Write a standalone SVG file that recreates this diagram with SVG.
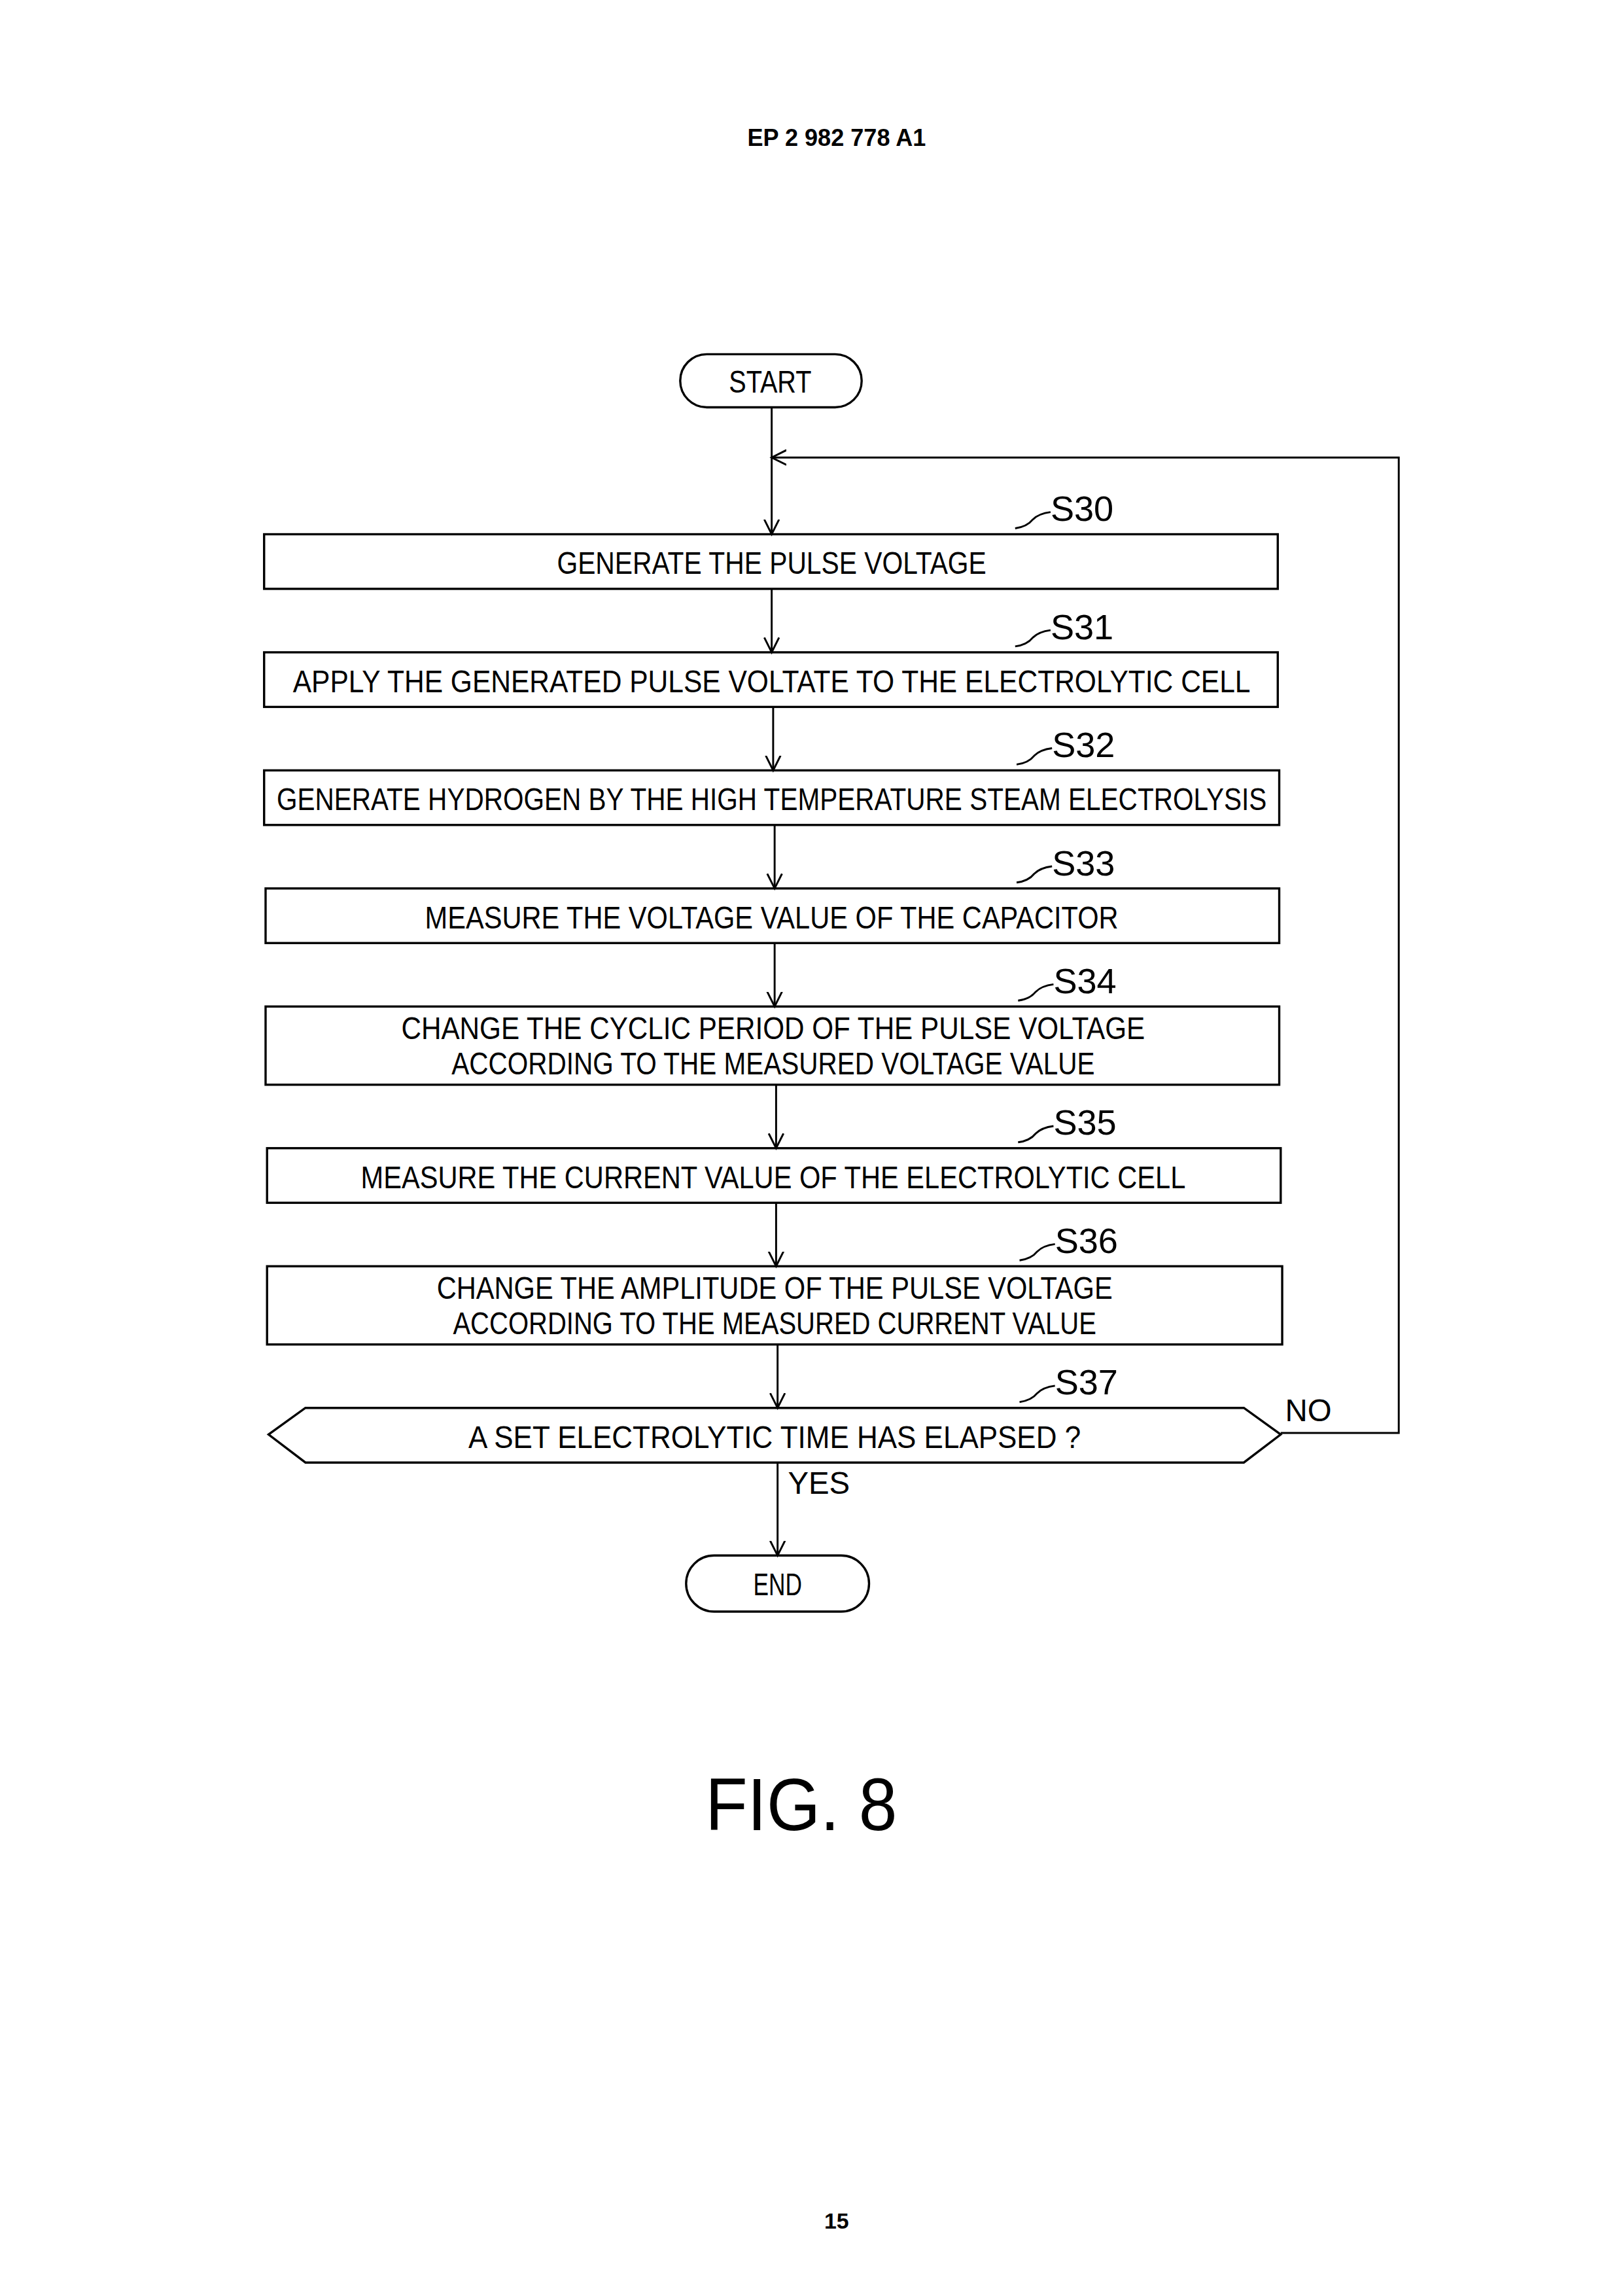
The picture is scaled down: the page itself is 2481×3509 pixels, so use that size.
<svg xmlns="http://www.w3.org/2000/svg" width="2481" height="3509" viewBox="0 0 2481 3509">
<defs>
<style>
.b{fill:none;stroke:#000;stroke-width:1.5}
.c{fill:none;stroke:#000;stroke-width:1.3}
.t{font-family:"Liberation Sans",Arial,sans-serif;font-size:21px;fill:#000}
.s{font-family:"Liberation Sans",Arial,sans-serif;font-size:24px;fill:#000}
</style>
<marker id="a" markerWidth="12" markerHeight="12" refX="10" refY="6" orient="auto" markerUnits="userSpaceOnUse"><path d="M0,1 L10,6 L0,11" fill="none" stroke="#000" stroke-width="1.3"/></marker>
</defs>
<rect width="2481" height="3509" fill="#fff"/>
<g transform="scale(2.2555)">
<text x="567" y="99" text-anchor="middle" style="font-family:'Liberation Sans',Arial,sans-serif;font-weight:bold;font-size:16px">EP 2 982 778 A1</text>
<g id="connectors">
<path class="c" d="M523,276 V362" marker-end="url(#a)"/>
<path class="c" d="M523,399 V442" marker-end="url(#a)"/>
<path class="c" d="M524,479 V522" marker-end="url(#a)"/>
<path class="c" d="M525,559 V602" marker-end="url(#a)"/>
<path class="c" d="M525,639 V682" marker-end="url(#a)"/>
<path class="c" d="M526,735 V778" marker-end="url(#a)"/>
<path class="c" d="M526,815 V858" marker-end="url(#a)"/>
<path class="c" d="M527,911 V954" marker-end="url(#a)"/>
<path class="c" d="M527,991 V1054" marker-end="url(#a)"/>
<path class="c" d="M868,971 H948 V310 H523" marker-end="url(#a)"/>
<text class="t" x="534" y="1012">YES</text>
<text class="t" x="871" y="963">NO</text>
</g>
<g id="start"><rect class="b" x="461" y="240" width="123" height="36" rx="18"/><text class="t" x="522" y="266" text-anchor="middle" textLength="56" lengthAdjust="spacingAndGlyphs">START</text></g>
<g id="s30"><rect class="b" x="179" y="362" width="687" height="37"/><text class="t" x="523" y="389" text-anchor="middle" textLength="291" lengthAdjust="spacingAndGlyphs">GENERATE THE PULSE VOLTAGE</text><path class="c" d="M688,358 q8,-1 12,-6 q4,-4 12,-5"/><text class="s" x="712" y="353">S30</text></g>
<g id="s31"><rect class="b" x="179" y="442" width="687" height="37"/><text class="t" x="523" y="469" text-anchor="middle" textLength="649" lengthAdjust="spacingAndGlyphs">APPLY THE GENERATED PULSE VOLTATE TO THE ELECTROLYTIC CELL</text><path class="c" d="M688,438 q8,-1 12,-6 q4,-4 12,-5"/><text class="s" x="712" y="433">S31</text></g>
<g id="s32"><rect class="b" x="179" y="522" width="688" height="37"/><text class="t" x="523" y="549" text-anchor="middle" textLength="671" lengthAdjust="spacingAndGlyphs">GENERATE HYDROGEN BY THE HIGH TEMPERATURE STEAM ELECTROLYSIS</text><path class="c" d="M689,518 q8,-1 12,-6 q4,-4 12,-5"/><text class="s" x="713" y="513">S32</text></g>
<g id="s33"><rect class="b" x="180" y="602" width="687" height="37"/><text class="t" x="523" y="629" text-anchor="middle" textLength="470" lengthAdjust="spacingAndGlyphs">MEASURE THE VOLTAGE VALUE OF THE CAPACITOR</text><path class="c" d="M689,598 q8,-1 12,-6 q4,-4 12,-5"/><text class="s" x="713" y="593">S33</text></g>
<g id="s34"><rect class="b" x="180" y="682" width="687" height="53"/><text class="t" x="524" y="704" text-anchor="middle" textLength="504" lengthAdjust="spacingAndGlyphs">CHANGE THE CYCLIC PERIOD OF THE PULSE VOLTAGE</text><text class="t" x="524" y="728" text-anchor="middle" textLength="436" lengthAdjust="spacingAndGlyphs">ACCORDING TO THE MEASURED VOLTAGE VALUE</text><path class="c" d="M690,678 q8,-1 12,-6 q4,-4 12,-5"/><text class="s" x="714" y="673">S34</text></g>
<g id="s35"><rect class="b" x="181" y="778" width="687" height="37"/><text class="t" x="524" y="805" text-anchor="middle" textLength="559" lengthAdjust="spacingAndGlyphs">MEASURE THE CURRENT VALUE OF THE ELECTROLYTIC CELL</text><path class="c" d="M690,774 q8,-1 12,-6 q4,-4 12,-5"/><text class="s" x="714" y="769">S35</text></g>
<g id="s36"><rect class="b" x="181" y="858" width="688" height="53"/><text class="t" x="525" y="880" text-anchor="middle" textLength="458" lengthAdjust="spacingAndGlyphs">CHANGE THE AMPLITUDE OF THE PULSE VOLTAGE</text><text class="t" x="525" y="904" text-anchor="middle" textLength="436" lengthAdjust="spacingAndGlyphs">ACCORDING TO THE MEASURED CURRENT VALUE</text><path class="c" d="M691,854 q8,-1 12,-6 q4,-4 12,-5"/><text class="s" x="715" y="849">S36</text></g>
<g id="s37"><path class="b" d="M207,954 H843 L868,972 L843,991 H207 L182,972 Z"/><text class="t" x="525" y="981" text-anchor="middle" textLength="415" lengthAdjust="spacingAndGlyphs">A SET ELECTROLYTIC TIME HAS ELAPSED ?</text><path class="c" d="M691,950 q8,-1 12,-6 q4,-4 12,-5"/><text class="s" x="715" y="945">S37</text></g>
<g id="end"><rect class="b" x="465" y="1054" width="124" height="38" rx="19"/><text class="t" x="527" y="1081" text-anchor="middle" textLength="33" lengthAdjust="spacingAndGlyphs">END</text></g>
<text x="543" y="1240" text-anchor="middle" style="font-family:'Liberation Sans',Arial,sans-serif;font-size:50px" textLength="130" lengthAdjust="spacingAndGlyphs">FIG. 8</text>
<text x="567" y="1510" text-anchor="middle" style="font-family:'Liberation Sans',Arial,sans-serif;font-weight:bold;font-size:15px">15</text>
</g>
</svg>
